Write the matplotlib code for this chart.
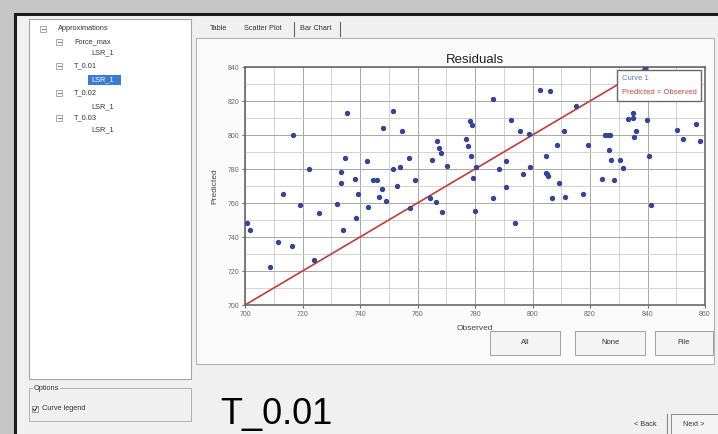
import matplotlib.pyplot as plt
from matplotlib.patches import Rectangle
from matplotlib.ticker import MultipleLocator

plt.rcParams['font.family'] = ['Liberation Sans', 'DejaVu Sans']

# Residuals of the T_0.01 / LSR_1 approximation
observed = [
    735.6, 751.5, 747.9, 754.6, 716.6, 778.3, 779.1, 766.8, 777.0, 767.4,
    777.7, 768.2, 778.7, 764.9, 734.9, 742.5, 756.9, 722.3, 733.4, 751.5,
    753.8, 770.4, 733.5, 738.1, 744.5, 745.8, 759.3, 779.3, 713.3, 739.4,
    747.8, 752.8, 746.5, 719.1, 732.0, 742.7, 748.9, 757.3, 764.5, 766.3,
    768.4, 780.1, 725.9, 738.6, 700.8, 701.7, 734.0, 711.4, 716.5, 708.7,
    724.1, 802.5, 806.2, 786.2, 815.0, 792.5, 795.7, 798.8, 810.9, 780.2,
    790.7, 788.5, 799.0, 796.8, 804.6, 808.5, 804.8, 805.5, 805.2, 809.2,
    790.8, 786.3, 793.9, 806.7, 811.4, 817.6, 819.2, 825.3, 826.2, 827.1,
    833.1, 835.1, 835.1, 839.9, 836.1, 835.3, 826.5, 827.4, 830.4, 831.5,
    824.1, 828.3, 840.4, 841.2, 850.1, 852.2, 856.9, 858.3, 839.0,
]
predicted = [
    812.8, 814.3, 803.9, 802.2, 799.8, 808.2, 805.7, 796.3, 797.6, 792.5,
    793.7, 789.2, 787.8, 785.5, 786.7, 784.5, 786.5, 780.2, 778.4, 779.8,
    781.0, 781.8, 771.6, 774.0, 773.5, 773.3, 773.3, 774.9, 765.5, 765.1,
    768.2, 770.2, 763.7, 758.8, 759.6, 757.4, 761.4, 757.1, 762.7, 760.8,
    754.7, 755.5, 754.0, 751.0, 748.2, 744.1, 744.1, 737.3, 734.9, 722.5,
    726.3, 826.3, 825.7, 821.2, 816.9, 808.8, 802.5, 800.6, 802.2, 781.4,
    784.5, 779.8, 781.0, 777.3, 787.8, 793.9, 777.5, 775.9, 776.8, 771.8,
    769.2, 763.1, 748.0, 762.8, 763.7, 765.5, 794.3, 800.0, 800.0, 800.0,
    809.4, 813.1, 809.8, 808.8, 802.5, 799.0, 791.2, 785.5, 785.1, 780.6,
    774.0, 773.5, 787.5, 758.8, 802.9, 797.5, 806.3, 796.3, 839.5,
]
diag = [700, 840]

tree_items = [
    ("Approximations", 0, True),
    ("Force_max", 1, True),
    ("LSR_1", 2, False),
    ("T_0.01", 1, True),
    ("LSR_1", 2, False),
    ("T_0.02", 1, True),
    ("LSR_1", 2, False),
    ("T_0.03", 1, True),
    ("LSR_1", 2, False),
]
tree_rows = [29, 42, 53, 66, 80, 93, 107, 118, 130]
selected_row = 4
tabs = ["Table", "Scatter Plot", "Bar Chart"]
buttons = ["All", "None", "File"]

W, H = 718, 434
fig = plt.figure(figsize=(W / 100, H / 100), dpi=100, facecolor='#c6c6c6')

# window chrome drawn in pixel coordinates
ui = fig.add_axes([0, 0, 1, 1])
ui.set_xlim(0, W)
ui.set_ylim(H, 0)
ui.axis('off')

ui.add_patch(Rectangle((15, 14), 712, 432, fc='#f0f0f0', ec='#1a1a1a', lw=2.2))

# tree panel
ui.add_patch(Rectangle((29, 19), 162, 360, fc='white', ec='#a4a4a4', lw=0.8))
indent = [58, 74, 91]
for (label, level, expandable), y in zip(tree_items, tree_rows):
    x = indent[level]
    if expandable:
        ui.add_patch(Rectangle((x - 18, y - 3), 6, 6, fc='white', ec='#888888', lw=0.5))
        ui.plot([x - 16.5, x - 13.5], [y, y], color='#444444', lw=0.5)
    if tree_rows.index(y) == selected_row:
        ui.add_patch(Rectangle((x - 3, y - 5), 33, 10, fc='#3a7bd5', ec='none'))
        ui.text(x, y, label, fontsize=5.3, color='white', va='center')
    else:
        ui.text(x, y, label, fontsize=5.3, color='#333333', va='center')

# options group
ui.add_patch(Rectangle((29, 388), 162, 33, fc='none', ec='#b0b0b0', lw=0.7))
ui.text(34, 388, "Options", fontsize=5.3, color='#333333', va='center',
        bbox=dict(fc='#f0f0f0', ec='none', pad=0.5))
ui.add_patch(Rectangle((32, 406), 6, 6, fc='white', ec='#707070', lw=0.5))
ui.plot([33.2, 34.8, 37], [409, 411, 407], color='#222222', lw=0.7)
ui.text(42, 409, "Curve legend", fontsize=5.3, color='#333333', va='center')

ui.text(220, 424, "T_0.01", fontsize=26, color='black', va='baseline')

# tab panel
ui.add_patch(Rectangle((196, 38), 518, 326, fc='#fbfbfb', ec='#b4b4b4', lw=0.8))
for label, x in zip(tabs, [210, 244, 300]):
    ui.text(x, 29, label, fontsize=5.3, color='#333333', va='center')
for x in [294, 340]:
    ui.plot([x, x], [22, 36], color='#666666', lw=0.8)

for label, (x, w) in zip(buttons, [(490, 70), (575, 70), (655, 58)]):
    ui.add_patch(Rectangle((x, 331), w, 24, fc='#f4f4f4', ec='#a0a0a0', lw=0.7))
    ui.text(x + w / 2, 343, label, fontsize=5.5, color='#333333',
            ha='center', va='center')

ui.text(645, 424, "< Back", fontsize=5.3, color='#333333', ha='center', va='center')
ui.plot([667, 667], [414, 434], color='#8a8a8a', lw=0.8)
ui.add_patch(Rectangle((671, 414), 50, 24, fc='#f4f4f4', ec='#8a8a8a', lw=0.7))
ui.text(694, 424, "Next >", fontsize=5.3, color='#333333', ha='center', va='center')

ui.text(475, 60, "Residuals", fontsize=9.5, color='#1e1e1e', ha='center', va='center')

# scatter plot
ax = fig.add_axes([245 / W, 1 - 305 / H, 460 / W, 238 / H])
ax.set_facecolor('white')
pts = ax.scatter(observed, predicted, s=8, color='#34449a', zorder=3,
                 label='Curve 1', clip_on=True)
line, = ax.plot(diag, diag, color='#c23b3b', lw=1.2, zorder=2,
                label='Predicted = Observed')
ax.set_xlim(700, 860)
ax.set_ylim(700, 840)
ax.xaxis.set_major_locator(MultipleLocator(20))
ax.yaxis.set_major_locator(MultipleLocator(20))
ax.xaxis.set_minor_locator(MultipleLocator(10))
ax.yaxis.set_minor_locator(MultipleLocator(10))
ax.grid(which='major', color='#a8a8a8', lw=0.7)
ax.grid(which='minor', color='#cccccc', lw=0.6)
ax.set_axisbelow(True)
ax.tick_params(which='major', labelsize=5, labelcolor='#666666', color='#707070',
               length=2, pad=2)
ax.tick_params(which='minor', length=0)
for sp in ax.spines.values():
    sp.set_color('#6a6a6a')
    sp.set_linewidth(1.2)
ax.set_xlabel("Observed", fontsize=6, color='#444444')
ax.set_ylabel("Predicted", fontsize=6, color='#444444')
ax.xaxis.set_label_coords(0.5, -0.085)
ax.yaxis.set_label_coords(-0.057, 0.5)

leg = ax.legend(handles=[pts, line], loc='upper right',
                bbox_to_anchor=(0.992, 0.988), fontsize=5.5, frameon=True,
                fancybox=False, edgecolor='#6a6a6a', framealpha=1,
                borderpad=0.6, labelspacing=0.9, handlelength=0,
                handletextpad=0, borderaxespad=0,
                labelcolor=['#5a78c8', '#d04444'])
leg.get_frame().set_linewidth(1.0)
for h in leg.legend_handles:
    h.set_visible(False)
leg.set_zorder(5)

fig.savefig('out.png', dpi=100, facecolor=fig.get_facecolor())
